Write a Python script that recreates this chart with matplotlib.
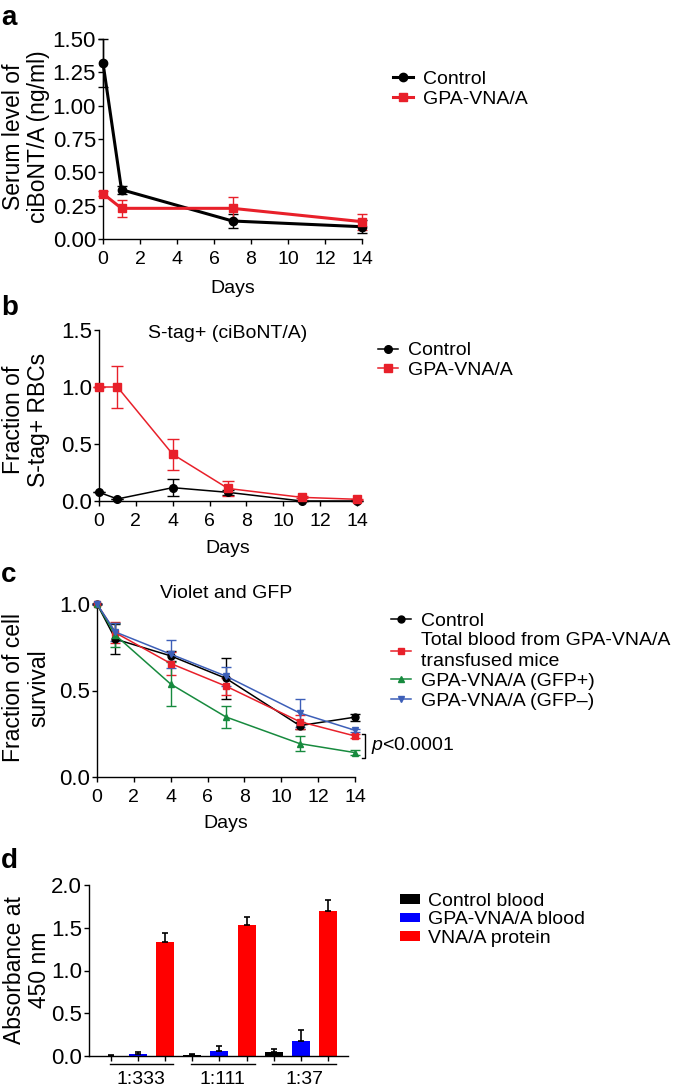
import matplotlib
matplotlib.use('Agg')
import matplotlib.pyplot as plt
import numpy as np

plt.rcParams['font.family'] = ['Liberation Sans', 'DejaVu Sans']
plt.rcParams['font.size'] = 14
plt.rcParams['mathtext.fontset'] = 'custom'
plt.rcParams['mathtext.it'] = 'Liberation Sans:italic'
plt.rcParams['mathtext.rm'] = 'Liberation Sans'
plt.rcParams['axes.linewidth'] = 1.0

# ---- panel a: serum ciBoNT/A
days_a = [0, 1, 7, 14]
ctrl_a = [1.32, 0.37, 0.135, 0.092]
ctrl_a_err = [0.18, 0.03, 0.05, 0.05]
gpa_a = [0.34, 0.23, 0.23, 0.13]
gpa_a_err = [0.02, 0.065, 0.085, 0.06]

# ---- panel b: S-tag+ RBCs
days_b = [0, 1, 4, 7, 11, 14]
ctrl_b = [0.076, 0.018, 0.117, 0.076, 0.0, 0.0]
ctrl_b_err = [0.0, 0.0, 0.073, 0.02, 0.0, 0.0]
gpa_b = [1.0, 1.0, 0.41, 0.11, 0.032, 0.015]
gpa_b_err = [0.0, 0.18, 0.135, 0.068, 0.01, 0.005]

# ---- panel c: cell survival
days_c = [0, 1, 4, 7, 11, 14]
ctrl_c = [1.0, 0.797, 0.70, 0.57, 0.297, 0.346]
ctrl_c_err = [0.0, 0.087, 0.03, 0.12, 0.02, 0.02]
total_c = [1.0, 0.834, 0.656, 0.525, 0.32, 0.237]
total_c_err = [0.0, 0.06, 0.065, 0.05, 0.04, 0.01]
gfpp_c = [1.0, 0.82, 0.537, 0.347, 0.193, 0.141]
gfpp_c_err = [0.0, 0.07, 0.125, 0.065, 0.045, 0.015]
gfpm_c = [1.0, 0.838, 0.71, 0.583, 0.37, 0.27]
gfpm_c_err = [0.0, 0.05, 0.08, 0.055, 0.08, 0.01]

# ---- panel d: ELISA
dilutions = ['1:333', '1:111', '1:37']
ctrl_d = [0.005, 0.01, 0.047]
ctrl_d_err = [0.005, 0.01, 0.03]
gpa_d = [0.027, 0.059, 0.18]
gpa_d_err = [0.02, 0.055, 0.125]
vna_d = [1.336, 1.531, 1.70]
vna_d_err = [0.10, 0.10, 0.13]

RED = '#e8202a'
GREEN = '#178a3e'
BLUE = '#3d5fb8'

YT = 16      # y tick labels
YL = 16.5    # y axis titles

W, H = 675, 1091
fig = plt.figure(figsize=(W / 100, H / 100), dpi=100)


def box(l, t, r, b):
    return [l / W, 1 - b / H, (r - l) / W, (b - t) / H]


def fx(x):
    return x / W


def fy(y):
    return 1 - y / H


def style(ax):
    for s in ['top', 'right']:
        ax.spines[s].set_visible(False)
    ax.tick_params(direction='out', length=3.5, width=1.0)
    ax.tick_params(axis='y', pad=1.5, labelsize=YT)
    ax.tick_params(axis='x', pad=5, labelsize=14)


def series(ax, x, y, err, color, marker, lw, ms, cap, label):
    ax.errorbar(x, y, yerr=err, fmt='none', ecolor=color, elinewidth=1.0,
                capsize=cap, capthick=1.0, clip_on=False, zorder=3)
    ax.plot(x, y, color=color, lw=lw, marker=marker, ms=ms, label=label,
            clip_on=False, zorder=4)


def legend(ax, x, yc, **kw):
    opts = dict(loc='center left', bbox_to_anchor=(fx(x), fy(yc)),
                bbox_transform=fig.transFigure, frameon=False, borderpad=0,
                borderaxespad=0, handlelength=1.05, handletextpad=0.5,
                labelspacing=0.12, numpoints=1, fontsize=14)
    opts.update(kw)
    return ax.legend(**opts)


def ylab(x, y, s):
    fig.text(fx(x), fy(y), s, rotation=90, ha='center', va='center',
             multialignment='center', fontsize=YL, linespacing=1.12)


# panel a
ax = fig.add_axes(box(103, 39, 362, 239))
style(ax)
series(ax, days_a, ctrl_a, ctrl_a_err, 'black', 'o', 2.2, 6, 3.5, 'Control')
series(ax, days_a, gpa_a, gpa_a_err, RED, 's', 2.2, 6, 3.5, 'GPA-VNA/A')
ax.set_xlim(0, 14)
ax.set_ylim(0, 1.5)
ax.set_xticks(range(0, 15, 2))
ax.set_yticks(np.arange(0, 1.51, 0.25))
ax.set_yticklabels([f'{v:.2f}' for v in np.arange(0, 1.51, 0.25)])
ax.set_xlabel('Days', va='center')
ax.xaxis.set_label_coords(0.5, (239 - 288.5) / 200)
legend(ax, 393, 89)
ylab(26, 137, 'Serum level of\nciBoNT/A (ng/ml)')
fig.text(fx(1), fy(25), 'a', fontsize=20, fontweight='bold', va='baseline')

# panel b
ax = fig.add_axes(box(99, 330, 357, 501))
style(ax)
series(ax, days_b, ctrl_b, ctrl_b_err, 'black', 'o', 1.1, 5.5, 4, 'Control')
series(ax, days_b, gpa_b, gpa_b_err, RED, 's', 1.1, 6, 4, 'GPA-VNA/A')
ax.set_xlim(0, 14)
ax.set_ylim(0, 1.5)
ax.set_xticks(range(0, 15, 2))
ax.set_yticks([0, 0.5, 1.0, 1.5])
ax.set_yticklabels(['0.0', '0.5', '1.0', '1.5'])
ax.set_xlabel('Days', va='center')
ax.xaxis.set_label_coords(0.5, (501 - 548.8) / 171)
ax.text(0.5, (501 - 333) / 171, 'S-tag+ (ciBoNT/A)', transform=ax.transAxes,
        ha='center', va='center')
legend(ax, 378, 360.5)
ylab(26, 420, 'Fraction of\nS-tag+ RBCs')
fig.text(fx(1), fy(315), 'b', fontsize=20, fontweight='bold', va='baseline')

# panel c
ax = fig.add_axes(box(97, 604, 355, 777))
style(ax)
series(ax, days_c, ctrl_c, ctrl_c_err, 'black', 'o', 1.1, 5, 3.5, 'Control')
series(ax, days_c, total_c, total_c_err, RED, 's', 1.1, 5, 3.5,
       'Total blood from GPA-VNA/A\ntransfused mice')
series(ax, days_c, gfpp_c, gfpp_c_err, GREEN, '^', 1.1, 5, 3.5, 'GPA-VNA/A (GFP+)')
series(ax, days_c, gfpm_c, gfpm_c_err, BLUE, 'v', 1.1, 5, 3.5, 'GPA-VNA/A (GFP\u2013)')
ax.set_xlim(0, 14)
ax.set_ylim(0, 1.0)
ax.set_xticks(range(0, 15, 2))
ax.set_yticks([0, 0.5, 1.0])
ax.set_yticklabels(['0.0', '0.5', '1.0'])
ax.set_xlabel('Days', va='center')
ax.xaxis.set_label_coords(0.5, (777 - 823.5) / 173)
ax.text(0.5, (777 - 594) / 173, 'Violet and GFP', transform=ax.transAxes,
        ha='center', va='center')
# significance bracket between GFP+ and total blood at day 14
top = total_c[-1] + 0.012
bot = gfpp_c[-1] - 0.03
bx = days_c[-1] + 0.4
ax.plot([bx, bx + 0.16, bx + 0.16, bx], [top, top, bot, bot], color='black',
        lw=1.0, clip_on=False)
ax.text(bx + 0.45, (top + bot) / 2, r'$p$<0.0001', ha='left', va='center')
leg = legend(ax, 391, 661)
for t in leg.get_texts():
    t.set_linespacing(1.25)
ylab(26, 688, 'Fraction of cell\nsurvival')
fig.text(fx(1), fy(582), 'c', fontsize=20, fontweight='bold', va='baseline')

# panel d
ax = fig.add_axes(box(89, 885, 348, 1056))
style(ax)
n = len(dilutions)
pos = np.arange(n) * 3
bw = 0.66
groups = [(ctrl_d, ctrl_d_err, 'black', 'Control blood'),
          (gpa_d, gpa_d_err, '#0000ff', 'GPA-VNA/A blood'),
          (vna_d, vna_d_err, '#ff0000', 'VNA/A protein')]
for i, (vals, err, col, lab) in enumerate(groups):
    ax.bar(pos + i, vals, width=bw, color=col, label=lab,
           yerr=[np.zeros(n), err], error_kw=dict(ecolor='black', elinewidth=1.2,
                                                   capsize=2.5, capthick=1.2))
ax.set_xlim(-0.81, 8.74)
ax.set_ylim(0, 2.0)
ax.set_yticks([0, 0.5, 1.0, 1.5, 2.0])
ax.set_yticklabels(['0.0', '0.5', '1.0', '1.5', '2.0'])
ax.set_xticks(np.arange(n * 3))
ax.set_xticklabels([])
ly = (1056 - 1064.3) / 171
for g, lab in zip(pos, dilutions):
    ax.plot([g - 0.05, g + 2.3], [ly, ly], color='black', lw=1.0,
            transform=ax.get_xaxis_transform(), clip_on=False)
    ax.text(g + 1.12, (1056 - 1079.5) / 171, lab, ha='center', va='center',
            transform=ax.get_xaxis_transform())
legend(ax, 400, 920, handleheight=0.4, handletextpad=0.37, labelspacing=0.08)
ylab(27, 970, 'Absorbance at\n450 nm')
fig.text(fx(1), fy(868), 'd', fontsize=20, fontweight='bold', va='baseline')

fig.savefig('out.png', dpi=100)
